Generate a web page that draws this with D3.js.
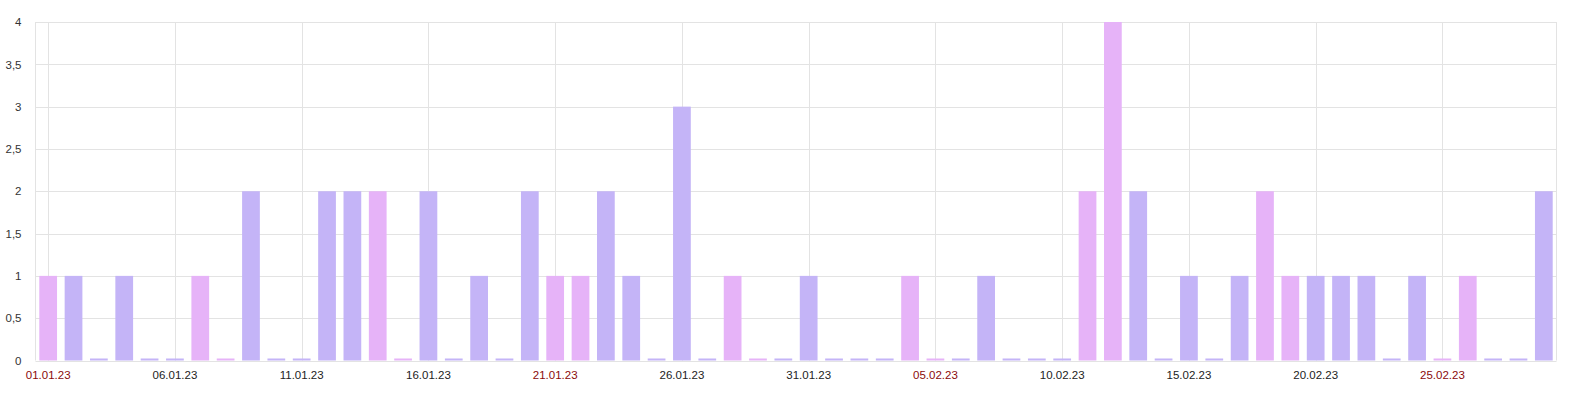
<!DOCTYPE html>
<html><head><meta charset="utf-8">
<script src="https://cdn.jsdelivr.net/npm/d3@7"></script>
<style>
html,body{margin:0;padding:0;background:#fff;}
svg{display:block;}
text{font-family:"Liberation Sans",Arial,sans-serif;}
</style></head>
<body><svg id="chart" width="1570" height="399"></svg>
<script>
// Data
const dates = ["01.01.23","02.01.23","03.01.23","04.01.23","05.01.23","06.01.23","07.01.23","08.01.23","09.01.23","10.01.23",
"11.01.23","12.01.23","13.01.23","14.01.23","15.01.23","16.01.23","17.01.23","18.01.23","19.01.23","20.01.23",
"21.01.23","22.01.23","23.01.23","24.01.23","25.01.23","26.01.23","27.01.23","28.01.23","29.01.23","30.01.23",
"31.01.23","01.02.23","02.02.23","03.02.23","04.02.23","05.02.23","06.02.23","07.02.23","08.02.23","09.02.23",
"10.02.23","11.02.23","12.02.23","13.02.23","14.02.23","15.02.23","16.02.23","17.02.23","18.02.23","19.02.23",
"20.02.23","21.02.23","22.02.23","23.02.23","24.02.23","25.02.23","26.02.23","27.02.23","28.02.23","01.03.23"];
const values = [1,1,0,1,0,0,1,0,2,0,
0,2,2,2,0,2,0,1,0,2,
1,1,2,1,0,3,0,1,0,0,
1,0,0,0,1,0,0,1,0,0,
0,2,4,2,0,1,0,1,2,1,
1,1,1,0,1,0,1,0,0,2];
const weekend = [1,0,0,0,0,0,1,1,0,0,
0,0,0,1,1,0,0,0,0,0,
1,1,0,0,0,0,0,1,1,0,
0,0,0,0,1,1,0,0,0,0,
0,1,1,0,0,0,0,0,1,1,
0,0,0,0,0,1,1,0,0,0];
const xTickLabels = ["01.01.23","06.01.23","11.01.23","16.01.23","21.01.23","26.01.23","31.01.23","05.02.23","10.02.23","15.02.23","20.02.23","25.02.23"];
const yTicks = [0,0.5,1,1.5,2,2.5,3,3.5,4];

const svg = d3.select("#chart");
const pLeft = 35.5, pRight = 1556.5, pTop = 22, pBottom = 360.5;

const x = d3.scaleBand().domain(dates).range([pLeft, pRight]).paddingInner(0.3).paddingOuter(0.15);
const y = d3.scaleLinear().domain([0,4]).range([pBottom, pTop]);
const fmt = d3.formatLocale({decimal:",",thousands:" ",grouping:[3],currency:["",""]}).format("~g");

const grid = svg.append("g");
grid.selectAll("line.h").data(yTicks).join("line")
  .attr("x1", pLeft).attr("x2", pRight)
  .attr("y1", d => Math.round(y(d)) + 0.5).attr("y2", d => Math.round(y(d)) + 0.5)
  .attr("stroke", "#e3e3e3").attr("stroke-width", 1);
grid.append("line").attr("x1", pLeft).attr("x2", pLeft).attr("y1", pTop).attr("y2", pBottom).attr("stroke","#e3e3e3");
grid.append("line").attr("x1", pRight).attr("x2", pRight).attr("y1", pTop).attr("y2", pBottom).attr("stroke","#e3e3e3");
grid.selectAll("line.v").data(xTickLabels).join("line")
  .attr("x1", d => Math.round(x(d) + x.bandwidth()/2) + 0.5)
  .attr("x2", d => Math.round(x(d) + x.bandwidth()/2) + 0.5)
  .attr("y1", pTop).attr("y2", pBottom)
  .attr("stroke", "#e3e3e3");

svg.append("g").selectAll("rect").data(dates).join("rect")
  .attr("x", d => x(d))
  .attr("width", x.bandwidth())
  .attr("y", (d,i) => values[i] > 0 ? y(values[i]) : pBottom - 2)
  .attr("height", (d,i) => values[i] > 0 ? pBottom - y(values[i]) : 2)
  .attr("fill", (d,i) => weekend[i] ? "#e6b3f8" : "#c4b4f7");

const yAxis = d3.axisLeft(y).tickValues(yTicks).tickFormat(fmt).tickSize(0).tickPadding(14);
const ya = svg.append("g").attr("transform", `translate(${pLeft},0)`).call(yAxis);
ya.select(".domain").remove();
ya.selectAll("text").attr("font-size", "11.5px").attr("fill", "#333").attr("font-family", "Liberation Sans, Arial, sans-serif");

const xAxis = d3.axisBottom(x).tickValues(xTickLabels).tickSize(0).tickPadding(10);
const xa = svg.append("g").attr("transform", `translate(0,${pBottom})`).call(xAxis);
xa.select(".domain").remove();
xa.selectAll("text").attr("font-size", "11.5px").attr("font-family", "Liberation Sans, Arial, sans-serif")
  .attr("fill", d => weekend[dates.indexOf(d)] ? "#8b0a0a" : "#222");
</script>
</body></html>
